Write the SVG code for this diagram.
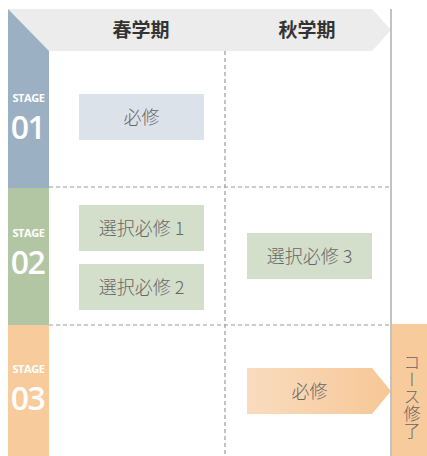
<svg xmlns="http://www.w3.org/2000/svg" width="427" height="456" viewBox="0 0 427 456">
<style>
.hd{font-family:"Noto Sans CJK JP","Noto Sans",sans-serif;font-size:19px;font-weight:bold;fill:#333;text-anchor:middle}
.bx{font-family:"Noto Sans CJK JP","Noto Sans",sans-serif;font-size:18px;font-weight:300;fill:#666;text-anchor:middle}
.st{font-family:"Open Sans","DejaVu Sans",sans-serif;font-size:11px;font-weight:bold;fill:#fff;text-anchor:middle;letter-spacing:-0.4px}
.num{font-family:"Open Sans","DejaVu Sans",sans-serif;font-size:32px;font-weight:600;fill:#fff;text-anchor:middle;letter-spacing:-1.5px}
.dash{stroke:#999;stroke-width:1.2;stroke-dasharray:4 3;fill:none}
.vt{font-family:"Noto Sans CJK JP","Noto Sans",sans-serif;font-size:17px;font-weight:300;fill:#666;writing-mode:vertical-rl}
</style>
<defs>
<linearGradient id="og" x1="0" y1="0" x2="1" y2="0">
<stop offset="0" stop-color="#f9dcbf"/>
<stop offset="1" stop-color="#f7c796"/>
</linearGradient>
</defs>
<g id="header">
<polygon points="8,9 372,9 391,30 372,51 8,51" fill="#ececec"/>
<text class="hd" x="141" y="37">春学期</text>
<text class="hd" x="307" y="37">秋学期</text>
</g>
<g id="stage1">
<polygon points="8,9 49,51 49,188 8,188" fill="#9cb0c4"/>
<text class="st" x="28.5" y="102">STAGE</text>
<text class="num" x="27.5" y="139">01</text>
</g>
<g id="stage2">
<rect x="8" y="188" width="41" height="137" fill="#b2c6a3"/>
<text class="st" x="28.5" y="237">STAGE</text>
<text class="num" x="27.5" y="274">02</text>
</g>
<g id="stage3">
<rect x="8" y="325" width="41" height="131" fill="#f8cb9c"/>
<text class="st" x="28.5" y="373">STAGE</text>
<text class="num" x="27.5" y="410">03</text>
</g>
<g id="connectors">
<line class="dash" x1="49" y1="187" x2="391" y2="187"/>
<line class="dash" x1="49" y1="325" x2="391" y2="325"/>
<line class="dash" x1="225" y1="51" x2="225" y2="456"/>
<line x1="391" y1="9" x2="391" y2="456" stroke="#999" stroke-width="1.2"/>
</g>
<g id="box-s1">
<rect x="79" y="94" width="125" height="46" fill="#dce2ea"/>
<text class="bx" x="141.5" y="123.5">必修</text>
</g>
<g id="box-e1">
<rect x="79" y="205" width="125" height="46" fill="#d4dfcb"/>
<text class="bx" x="141.5" y="234.5">選択必修 1</text>
</g>
<g id="box-e2">
<rect x="79" y="264" width="125" height="46" fill="#d4dfcb"/>
<text class="bx" x="141.5" y="293.5">選択必修 2</text>
</g>
<g id="box-e3">
<rect x="247" y="233" width="125" height="46" fill="#d4dfcb"/>
<text class="bx" x="309.5" y="262.5">選択必修 3</text>
</g>
<g id="box-r3">
<polygon points="247,368 372,368 391,391 372,414 247,414" fill="url(#og)"/>
<text class="bx" x="309.5" y="397.5">必修</text>
</g>
<g id="complete">
<rect x="392" y="324" width="35" height="132" fill="#f8cb9c"/>
<text class="vt" x="412" y="354">コース修了</text>
</g>
</svg>
